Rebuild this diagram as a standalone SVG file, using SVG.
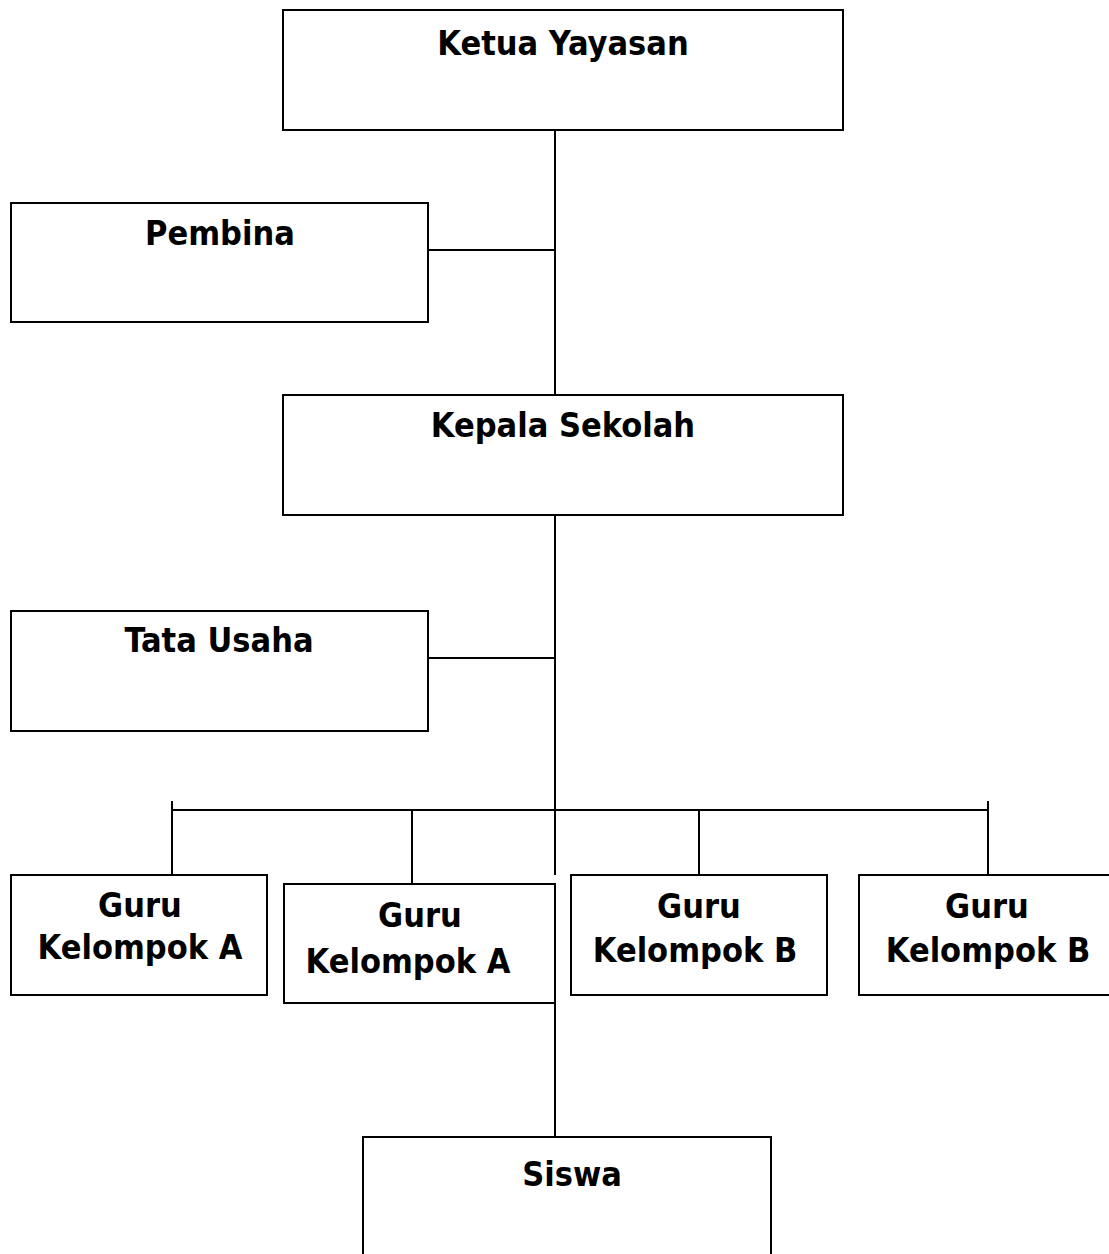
<svg xmlns="http://www.w3.org/2000/svg" width="1109" height="1254" viewBox="0 0 1109 1254">
<style>
.box{fill:#fff;stroke:#000;stroke-width:2}
.ln{stroke:#000;stroke-width:2;fill:none}
text{font-family:"DejaVu Sans","Liberation Sans",sans-serif;font-stretch:condensed;font-weight:bold;font-size:34px;fill:#000;text-anchor:middle}
</style>
<rect width="1109" height="1254" fill="#fff"/>
<g id="connectors">
<path class="ln" d="M555 130V395M428 250H555M555 515V875M428 658H555M172 810H988M172 801V875M988 801V875M412 810V884M699 810V886M555 1003V1137"/>
</g>
<g id="ketua"><rect class="box" x="283" y="10" width="560" height="120"/><text x="563" y="55">Ketua Yayasan</text></g>
<g id="pembina"><rect class="box" x="11" y="203" width="417" height="119"/><text x="220" y="245">Pembina</text></g>
<g id="kepala"><rect class="box" x="283" y="395" width="560" height="120"/><text x="563" y="437">Kepala Sekolah</text></g>
<g id="tatausaha"><rect class="box" x="11" y="611" width="417" height="120"/><text x="219" y="652">Tata Usaha</text></g>
<g id="guruA1"><rect class="box" x="11" y="875" width="256" height="120"/><text x="140" y="917">Guru</text><text x="140" y="959">Kelompok A</text></g>
<g id="guruA2"><rect class="box" x="284" y="884" width="271" height="119"/><text x="420" y="927">Guru</text><text x="408" y="973">Kelompok A</text></g>
<g id="guruB1"><rect class="box" x="571" y="875" width="256" height="120"/><text x="699" y="918">Guru</text><text x="695" y="962">Kelompok B</text></g>
<g id="guruB2"><rect class="box" x="859" y="875" width="270" height="120"/><text x="987" y="918">Guru</text><text x="988" y="962">Kelompok B</text></g>
<g id="siswa"><rect class="box" x="363" y="1137" width="408" height="140"/><text x="572" y="1186">Siswa</text></g>
</svg>
